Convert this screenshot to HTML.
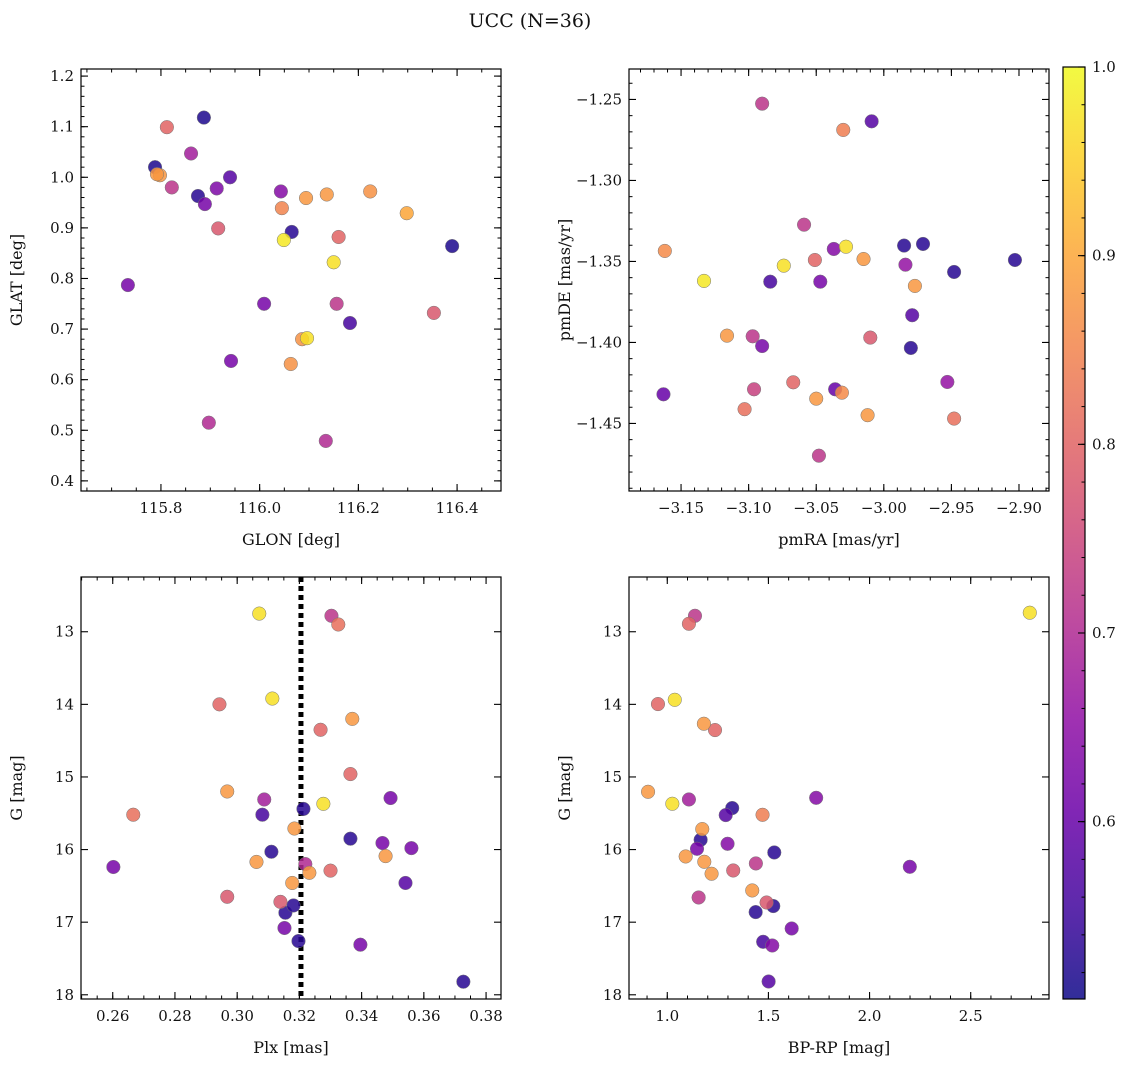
<!DOCTYPE html>
<html><head><meta charset="utf-8"><style>
body{margin:0;background:#fff}
svg text{font-family:"DejaVu Serif","Liberation Serif",serif;fill:#111}
</style></head><body>
<svg id="fig" width="1136" height="1067" viewBox="0 0 1136 1067" xmlns="http://www.w3.org/2000/svg">
<text x="530" y="27" font-size="19" text-anchor="middle">UCC (N=36)</text>
</svg>
<script>
// ---- data ----
const p1x=[115.788,115.798,115.812,115.822,115.861,115.887,115.875,115.889,115.913,115.916,115.940,115.733,115.942,115.897,116.009,116.043,116.045,116.049,116.065,116.094,116.136,116.150,116.160,116.156,116.183,116.086,116.096,116.063,116.134,116.224,116.298,116.390,116.353,115.792];
const p1y=[1.020,1.004,1.099,0.980,1.047,1.118,0.963,0.947,0.978,0.899,1.000,0.787,0.637,0.515,0.750,0.972,0.939,0.876,0.892,0.959,0.966,0.832,0.882,0.750,0.712,0.680,0.682,0.631,0.479,0.972,0.929,0.864,0.732,1.006];
const p1c=[0.52,0.88,0.80,0.72,0.68,0.52,0.53,0.62,0.63,0.78,0.58,0.62,0.62,0.70,0.62,0.64,0.85,0.98,0.53,0.88,0.88,0.97,0.80,0.72,0.56,0.87,0.97,0.87,0.70,0.87,0.90,0.52,0.78,0.88];
const p2x=[-3.090,-3.030,-3.009,-3.059,-3.162,-3.133,-3.074,-3.084,-3.051,-3.037,-3.028,-3.047,-3.015,-2.985,-2.971,-2.984,-2.948,-2.903,-2.977,-2.979,-3.116,-3.097,-3.090,-3.010,-2.980,-3.163,-3.096,-3.067,-3.103,-3.050,-3.036,-3.031,-3.012,-2.953,-2.948,-3.048];
const p2y=[-1.2526,-1.2688,-1.2635,-1.3273,-1.3435,-1.3620,-1.3526,-1.3625,-1.3491,-1.3423,-1.3409,-1.3625,-1.3485,-1.3402,-1.3392,-1.3520,-1.3565,-1.3491,-1.3651,-1.3832,-1.3958,-1.3962,-1.4022,-1.3970,-1.4034,-1.4320,-1.4289,-1.4246,-1.4412,-1.4347,-1.4289,-1.4310,-1.4449,-1.4244,-1.4470,-1.4699];
const p2c=[0.72,0.84,0.58,0.72,0.86,0.98,0.97,0.56,0.80,0.64,0.97,0.62,0.88,0.53,0.53,0.66,0.53,0.53,0.88,0.58,0.88,0.72,0.62,0.78,0.53,0.60,0.74,0.80,0.82,0.88,0.60,0.86,0.88,0.66,0.82,0.72];
const p3x=[0.3071,0.3325,0.3303,0.2943,0.3113,0.3370,0.3268,0.3364,0.2968,0.2666,0.3087,0.3081,0.3277,0.3213,0.3184,0.3493,0.3364,0.3110,0.3467,0.3560,0.3477,0.2602,0.3062,0.3219,0.3232,0.3300,0.2968,0.3177,0.3139,0.3155,0.3181,0.3152,0.3197,0.3396,0.3541,0.3727];
const p3y=[12.75,12.90,12.78,14.00,13.92,14.20,14.35,14.96,15.20,15.52,15.31,15.52,15.37,15.44,15.71,15.29,15.85,16.03,15.91,15.98,16.09,16.24,16.17,16.20,16.32,16.29,16.65,16.46,16.72,16.87,16.77,17.08,17.26,17.31,16.46,17.82];
const p3c=[0.97,0.82,0.72,0.80,0.97,0.88,0.80,0.80,0.88,0.82,0.68,0.56,0.97,0.53,0.88,0.62,0.53,0.53,0.62,0.62,0.88,0.62,0.88,0.70,0.88,0.80,0.78,0.88,0.78,0.53,0.53,0.62,0.53,0.62,0.58,0.53];
const p4x=[0.954,1.037,1.181,1.236,0.905,1.025,1.107,1.321,1.289,1.471,1.736,1.173,1.165,1.147,1.298,1.529,1.091,1.183,1.438,1.326,1.219,1.420,1.155,1.491,1.524,1.437,1.615,1.474,1.519,1.501,2.792,1.137,1.107,2.199];
const p4y=[13.996,13.937,14.267,14.354,15.204,15.369,15.310,15.428,15.525,15.521,15.287,15.718,15.865,15.989,15.920,16.040,16.095,16.168,16.191,16.288,16.333,16.563,16.660,16.729,16.778,16.861,17.087,17.270,17.321,17.817,12.738,12.780,12.890,16.237];
const p4c=[0.80,0.97,0.88,0.80,0.88,0.97,0.68,0.53,0.58,0.84,0.64,0.88,0.53,0.62,0.64,0.53,0.88,0.88,0.72,0.78,0.88,0.88,0.72,0.78,0.53,0.53,0.62,0.56,0.64,0.58,0.97,0.72,0.80,0.62];
const plxLine=0.3205;
const t1x=[115.8,116.0,116.2,116.4], t1xl=["115.8","116.0","116.2","116.4"];
const t1y=[0.4,0.5,0.6,0.7,0.8,0.9,1.0,1.1,1.2], t1yl=["0.4","0.5","0.6","0.7","0.8","0.9","1.0","1.1","1.2"];
const t2x=[-3.15,-3.10,-3.05,-3.00,-2.95,-2.90], t2xl=["\u22123.15","\u22123.10","\u22123.05","\u22123.00","\u22122.95","\u22122.90"];
const t2y=[-1.45,-1.40,-1.35,-1.30,-1.25], t2yl=["\u22121.45","\u22121.40","\u22121.35","\u22121.30","\u22121.25"];
const t3x=[0.26,0.28,0.30,0.32,0.34,0.36,0.38], t3xl=["0.26","0.28","0.30","0.32","0.34","0.36","0.38"];
const tGy=[13,14,15,16,17,18], tGyl=["13","14","15","16","17","18"];
const t4x=[1.0,1.5,2.0,2.5], t4xl=["1.0","1.5","2.0","2.5"];
const tcb=[0.6,0.7,0.8,0.9,1.0], tcbl=["0.6","0.7","0.8","0.9","1.0"];
const cmin=0.506,cmax=1.0;

const NS="http://www.w3.org/2000/svg",svg=document.getElementById('fig');
function el(t,a,p){const e=document.createElementNS(NS,t);for(const k in a)e.setAttribute(k,a[k]);(p||svg).appendChild(e);return e;}
const stops=["#0d0887","#41049d","#6a00a8","#8f0da4","#b12a90","#cc4778","#e16462","#f2844b","#fca636","#fcce25","#f0f921"];
function hex(h){return [1,3,5].map(i=>parseInt(h.substr(i,2),16));}
function cmap(v){let t=(v-cmin)/(cmax-cmin);t=Math.max(0,Math.min(1,t));const f=t*10,i=Math.min(9,Math.floor(f)),r=f-i;const a=hex(stops[i]),b=hex(stops[i+1]);return `rgb(${a.map((c,k)=>Math.round(c+(b[k]-c)*r)).join(',')})`;}

function panel(o){
  const g=el('g',{});
  
  
  const X=v=>o.L+(v-o.x0)/(o.x1-o.x0)*(o.R-o.L);
  const Y=v=>o.B-(v-o.y0)/(o.y1-o.y0)*(o.B-o.T);
  if(o.vline!==undefined){const l=el('line',{x1:X(o.vline),x2:X(o.vline),y1:o.T,y2:o.B,stroke:'#000','stroke-width':5,'stroke-dasharray':'5,4'},g);}
  const order=o.c.map((c,i)=>i).sort((a,b)=>o.c[a]-o.c[b]);
  for(const i of order){const c=el('circle',{cx:X(o.xs[i]),cy:Y(o.ys[i]),r:6.8,fill:cmap(o.c[i]),'fill-opacity':0.85,stroke:'#777','stroke-width':0.5},g);}
  const fr=el('rect',{x:o.L,y:o.T,width:o.R-o.L,height:o.B-o.T,fill:'none',stroke:'#000','stroke-width':1.2},g);
  
  for(let v=Math.ceil(o.x0/o.mx-1e-9)*o.mx;v<=o.x1+1e-9;v+=o.mx){const x=X(v);el('line',{x1:x,x2:x,y1:o.B,y2:o.B-3.5,stroke:'#000'},g);el('line',{x1:x,x2:x,y1:o.T,y2:o.T+3.5,stroke:'#000'},g);}
  for(let v=Math.ceil(o.y0/o.my-1e-9)*o.my;v<=o.y1+1e-9;v+=o.my){const y=Y(v);el('line',{x1:o.L,x2:o.L+3.5,y1:y,y2:y,stroke:'#000'},g);el('line',{x1:o.R,x2:o.R-3.5,y1:y,y2:y,stroke:'#000'},g);}
  o.tx.forEach((v,i)=>{const x=X(v);el('line',{x1:x,x2:x,y1:o.B,y2:o.B-7,stroke:'#000','stroke-width':1.1},g);el('line',{x1:x,x2:x,y1:o.T,y2:o.T+7,stroke:'#000','stroke-width':1.1},g);
    const t=el('text',{x:x,y:o.B+22,'font-size':15,'text-anchor':'middle'},g);t.textContent=o.txl[i];});
  o.ty.forEach((v,i)=>{const y=Y(v);el('line',{x1:o.L,x2:o.L+7,y1:y,y2:y,stroke:'#000','stroke-width':1.1},g);el('line',{x1:o.R,x2:o.R-7,y1:y,y2:y,stroke:'#000','stroke-width':1.1},g);
    const t=el('text',{x:o.L-7,y:y+5,'font-size':15,'text-anchor':'end'},g);t.textContent=o.tyl[i];});
  const xl=el('text',{x:(o.L+o.R)/2,y:o.B+54,'font-size':16,'text-anchor':'middle'},g);xl.textContent=o.xlab;
  const yx=o.L-59;
  const yl=el('text',{x:yx,y:(o.T+o.B)/2,'font-size':16,'text-anchor':'middle',transform:`rotate(-90 ${yx} ${(o.T+o.B)/2})`},g);yl.textContent=o.ylab;
}
panel({name:'glon-glat-panel',L:81,R:501,T:69,B:491,x0:115.638,x1:116.489,y0:0.380,y1:1.214,xs:p1x,ys:p1y,c:p1c,tx:t1x,txl:t1xl,ty:t1y,tyl:t1yl,mx:0.05,my:0.02,xlab:'GLON [deg]',ylab:'GLAT [deg]'});
panel({name:'pm-panel',L:629,R:1049,T:69,B:491,x0:-3.1885,x1:-2.8778,y0:-1.4917,y1:-1.2312,xs:p2x,ys:p2y,c:p2c,tx:t2x,txl:t2xl,ty:t2y,tyl:t2yl,mx:0.01,my:0.01,xlab:'pmRA [mas/yr]',ylab:'pmDE [mas/yr]'});
panel({name:'plx-g-panel',L:81,R:501,T:577,B:999,x0:0.2498,x1:0.3848,y0:18.058,y1:12.246,xs:p3x,ys:p3y,c:p3c,tx:t3x,txl:t3xl,ty:tGy,tyl:tGyl,mx:0.005,my:0.2,xlab:'Plx [mas]',ylab:'G [mag]',vline:plxLine});
panel({name:'cmd-panel',L:629,R:1049,T:577,B:999,x0:0.8108,x1:2.887,y0:18.058,y1:12.246,xs:p4x,ys:p4y,c:p4c,tx:t4x,txl:t4xl,ty:tGy,tyl:tGyl,mx:0.1,my:0.2,xlab:'BP-RP [mag]',ylab:'G [mag]'});
const cb=el('g',{});
const defs=el('defs',{},cb);const lg=el('linearGradient',{id:'pl',x1:0,y1:1,x2:0,y2:0},defs);
stops.forEach((s,i)=>el('stop',{offset:i/10,'stop-color':s,'stop-opacity':0.85},lg));
const CT=67,CB=999,CL=1063,CR=1085;const CY=v=>CB-(v-cmin)/(cmax-cmin)*(CB-CT);
el('rect',{x:CL,y:CT,width:CR-CL,height:CB-CT,fill:'url(#pl)',stroke:'#000','stroke-width':1.2},cb);
for(let v=0.52;v<=1.0001;v+=0.02){const y=CY(v);el('line',{x1:CR,x2:CR-3.5,y1:y,y2:y,stroke:'#000'},cb);}
tcb.forEach((v,i)=>{const y=CY(v);el('line',{x1:CR,x2:CR-7,y1:y,y2:y,stroke:'#000','stroke-width':1.1},cb);const t=el('text',{x:CR+7,y:y+5,'font-size':15},cb);t.textContent=tcbl[i];});
</script>
</body></html>
